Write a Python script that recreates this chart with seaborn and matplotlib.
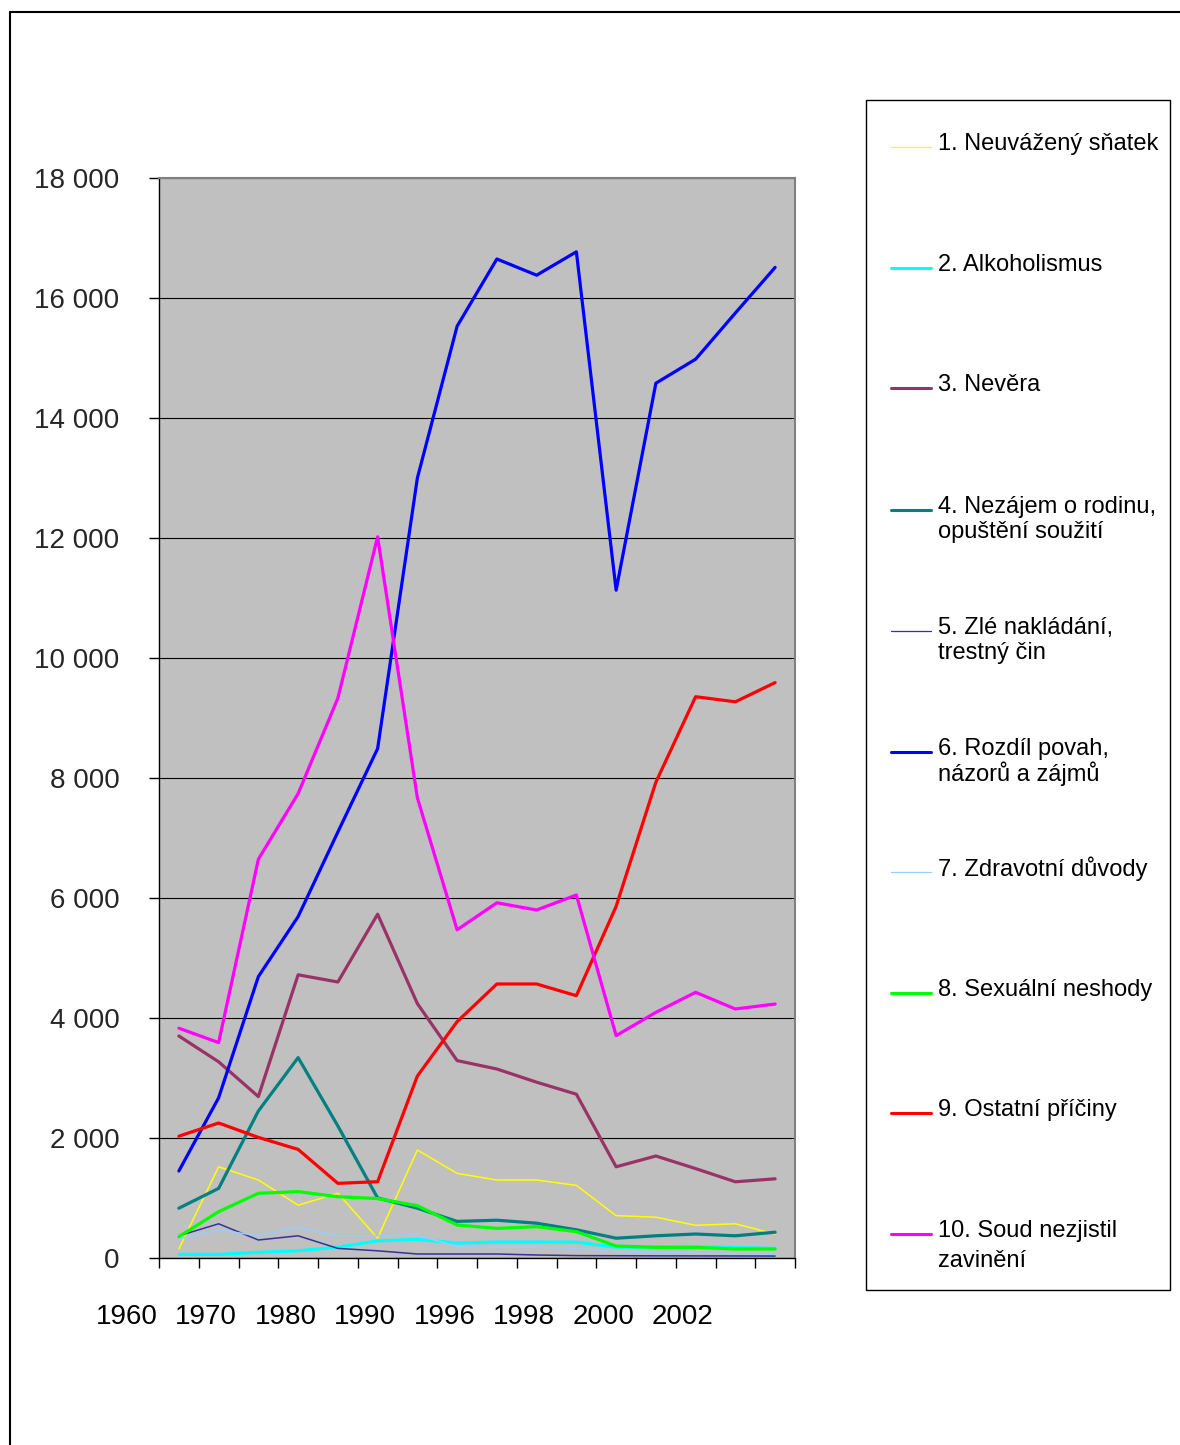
import numpy as np
import pandas as pd
import matplotlib
matplotlib.use("Agg")
import matplotlib.pyplot as plt
import seaborn as sns
from matplotlib.lines import Line2D
from matplotlib.patches import Rectangle
from matplotlib.ticker import FuncFormatter, MultipleLocator

sns.set_style("white")
plt.rcParams['font.family'] = ['Liberation Sans', 'DejaVu Sans']

# ---------------- data ----------------
x_labels = ['1960', '1970', '1980', '1990', '1996', '1998', '2000', '2002']
n_points = 16

series_names = [
    "1. Neuvážený sňatek",
    "2. Alkoholismus",
    "3. Nevěra",
    "4. Nezájem o rodinu,\nopuštění soužití",
    "5. Zlé nakládání,\ntrestný čin",
    "6. Rozdíl povah,\nnázorů a zájmů",
    "7. Zdravotní důvody",
    "8. Sexuální neshody",
    "9. Ostatní příčiny",
    "10. Soud nezjistil\nzavinění",
]

neuvazeny_snatek = [150, 1520, 1300, 880, 1080, 330, 1800, 1410, 1300, 1300, 1210, 706, 680, 545, 570, 400]
alkoholismus = [60, 60, 95, 120, 180, 285, 310, 250, 265, 265, 265, 180, 180, 185, 175, 160]
nevera = [3700, 3270, 2690, 4720, 4600, 5730, 4240, 3290, 3150, 2930, 2730, 1520, 1700, 1490, 1270, 1320]
nezajem = [830, 1160, 2450, 3340, 2200, 1000, 830, 610, 630, 580, 470, 330, 370, 400, 370, 430]
zle_nakladani = [370, 570, 300, 370, 160, 120, 67, 67, 67, 50, 40, 38, 36, 35, 34, 33]
rozdil_povah = [1450, 2670, 4690, 5690, 7100, 8490, 13000, 15530, 16650, 16380, 16770, 11130, 14580, 14980, 15750, 16510]
zdravotni = [315, 467, 372, 511, 372, 372, 383, 189, 178, 178, 161, 106, 94, 83, 72, 61]
sexualni = [356, 772, 1078, 1106, 1022, 990, 872, 550, 494, 522, 439, 200, 178, 178, 150, 150]
ostatni = [2030, 2250, 2010, 1810, 1244, 1272, 3033, 3939, 4567, 4567, 4372, 5860, 7930, 9355, 9270, 9590]
soud_nezjistil = [3830, 3590, 6645, 7740, 9330, 12020, 7670, 5470, 5920, 5800, 6050, 3706, 4094, 4428, 4150, 4233]

all_values = [neuvazeny_snatek, alkoholismus, nevera, nezajem, zle_nakladani,
              rozdil_povah, zdravotni, sexualni, ostatni, soud_nezjistil]

colors = ['#FFFF00', '#00FFFF', '#993366', '#008080', '#333399',
          '#0000FF', '#99CCFF', '#00FF00', '#FF0000', '#FF00FF']
widths = [1.1, 2.3, 2.3, 2.3, 1.1, 2.3, 1.1, 2.3, 2.3, 2.3]

rows = []
for name, vals in zip(series_names, all_values):
    for i, v in enumerate(vals):
        rows.append({'bod': i, 'pocet': v, 'serie': name})
df = pd.DataFrame(rows)

# ---------------- figure ----------------
W, H = 1180, 1445
fig = plt.figure(figsize=(W / 100, H / 100), dpi=100)

def fx(x):
    return x / W

def fy(y):
    return 1 - y / H

# outer chart border (top and left visible)
fig.add_artist(Line2D([fx(10), fx(1180)], [fy(12), fy(12)], color='black', lw=1.5))
fig.add_artist(Line2D([fx(10), fx(10)], [fy(12), fy(1445)], color='black', lw=1.5))

ax = fig.add_axes([fx(159), fy(1258), 636 / W, 1080 / H])
ax.set_facecolor('#C0C0C0')

for name, col, lw in zip(series_names, colors, widths):
    sub = df[df['serie'] == name]
    sns.lineplot(data=sub, x='bod', y='pocet', color=col, linewidth=lw, ax=ax,
                 legend=False, zorder=3)

ax.set_xlim(-0.5, n_points - 0.5)
ax.set_ylim(0, 18000)
ax.set_xlabel('')
ax.set_ylabel('')

ax.yaxis.set_major_locator(MultipleLocator(2000))
ax.yaxis.set_major_formatter(FuncFormatter(lambda v, p: f"{int(v):,}".replace(',', ' ')))
ax.tick_params(axis='y', which='major', direction='out', length=7.5, width=1,
               color='black', pad=21, labelsize=20, left=True)
ax.set_xticks([])
ax.set_xticks(np.arange(-0.5, n_points, 1.0), minor=True)
ax.tick_params(axis='x', which='minor', direction='out', length=7.5, width=1,
               color='black', bottom=True)

ax.grid(axis='y', color='black', linewidth=0.8)
ax.set_axisbelow(True)

for side in ['top', 'right']:
    ax.spines[side].set_color('#808080')
    ax.spines[side].set_linewidth(1.5)
for side in ['left', 'bottom']:
    ax.spines[side].set_color('black')
    ax.spines[side].set_linewidth(1.0)

# category labels (placed every second category, shifted as in the original)
trans = ax.get_xaxis_transform()
for k, lab in enumerate(x_labels):
    ax.text(-1.32 + 2 * k, -0.0546, lab, transform=trans, ha='center', va='center',
            fontsize=20, color='black', clip_on=False)

# ---------------- legend ----------------
fig.add_artist(Rectangle((fx(866), fy(1290)), (1170 - 866) / W, (1290 - 100) / H,
                         facecolor='white', edgecolor='black', lw=1.0))
legend_y = [147, 268, 388, 510, 631, 752, 872, 993, 1113, 1234]
for name, col, lw, ly in zip(series_names, colors, widths, legend_y):
    fig.add_artist(Line2D([fx(891), fx(931)], [fy(ly), fy(ly)], color=col,
                          lw=0.9 if lw < 2 else 2.2))
    lines = name.split('\n')
    gap = 30 if name.startswith('10.') else 25
    for j, t in enumerate(lines):
        fig.text(fx(938), fy(ly - 3 + j * gap), t, ha='left', va='center',
                 fontsize=17, color='black')

fig.savefig('out.png', dpi=100)
